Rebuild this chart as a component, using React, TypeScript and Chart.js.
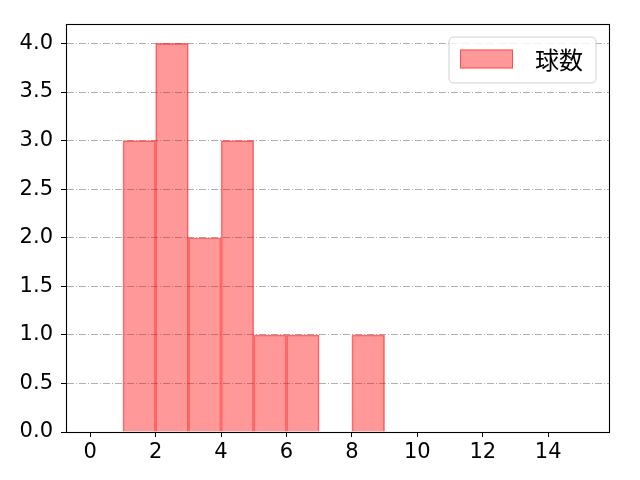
import React, { useEffect, useRef } from "react";
import { Chart, registerables } from "chart.js";

Chart.register(...registerables);

// Histogram bins (left edges, width 1) and counts
const binStarts = [1, 2, 3, 4, 5, 6, 7, 8];
const counts = [3, 4, 2, 3, 1, 1, 0, 1];
const seriesLabel = "球数";
const xTicks = [0, 2, 4, 6, 8, 10, 12, 14];
const yTicks = [0, 0.5, 1.0, 1.5, 2.0, 2.5, 3.0, 3.5, 4.0];

const TICK_FONT = "'DejaVu Sans', sans-serif";
const CJK_FONT = "'Noto Sans CJK JP', 'Noto Sans', sans-serif";

const framePlugin = {
  id: "frame",
  afterDatasetsDraw(chart: any) {
    const { ctx, chartArea } = chart;
    ctx.save();
    ctx.strokeStyle = "#000";
    ctx.lineWidth = 1.1;
    ctx.setLineDash([]);
    ctx.strokeRect(
      Math.round(chartArea.left) + 0.5,
      Math.round(chartArea.top) + 0.5,
      Math.round(chartArea.right - chartArea.left),
      Math.round(chartArea.bottom - chartArea.top)
    );
    ctx.restore();
  },
};

const legendPlugin = {
  id: "mplLegend",
  afterDraw(chart: any) {
    const { ctx, chartArea } = chart;
    const ds = chart.data.datasets[0];
    ctx.save();
    ctx.font = `24px ${CJK_FONT}`;
    const textW = ctx.measureText(ds.label).width;
    const padL = 11, patchW = 53, patchH = 19, gap = 22, padR = 13;
    const w = padL + patchW + gap + textW + padR;
    const h = 46;
    const right = chartArea.right - 13;
    const top = chartArea.top + 13;
    const left = right - w;
    const r = 5;
    ctx.beginPath();
    ctx.moveTo(left + r, top);
    ctx.lineTo(right - r, top);
    ctx.quadraticCurveTo(right, top, right, top + r);
    ctx.lineTo(right, top + h - r);
    ctx.quadraticCurveTo(right, top + h, right - r, top + h);
    ctx.lineTo(left + r, top + h);
    ctx.quadraticCurveTo(left, top + h, left, top + h - r);
    ctx.lineTo(left, top + r);
    ctx.quadraticCurveTo(left, top, left + r, top);
    ctx.closePath();
    ctx.fillStyle = "rgba(255,255,255,0.8)";
    ctx.fill();
    ctx.strokeStyle = "#d0d0d0";
    ctx.lineWidth = 1;
    ctx.stroke();
    const cy = top + h / 2;
    const px = left + padL;
    const py = cy - patchH / 2 - 1;
    ctx.fillStyle = ds.backgroundColor;
    ctx.fillRect(px, py, patchW, patchH);
    ctx.strokeStyle = ds.borderColor;
    ctx.lineWidth = 1;
    ctx.strokeRect(px + 0.5, py + 0.5, patchW - 1, patchH - 1);
    ctx.fillStyle = "#000";
    ctx.textAlign = "left";
    ctx.textBaseline = "middle";
    ctx.fillText(ds.label, px + patchW + gap, cy);
    ctx.restore();
  },
};

export default function App() {
  const canvasRef = useRef<HTMLCanvasElement | null>(null);

  useEffect(() => {
    document.body.style.margin = "0";
    const canvas = canvasRef.current;
    if (!canvas) return;
    const chart = new Chart(canvas, {
      type: "bar",
      data: {
        datasets: [
          {
            label: seriesLabel,
            data: binStarts.map((s, i) => ({ x: s + 0.5, y: counts[i] })),
            backgroundColor: "rgba(255,0,0,0.4)",
            borderColor: "rgba(255,0,0,0.5)",
            borderWidth: 1,
            borderSkipped: "start",
            barPercentage: 1,
            categoryPercentage: 1,
          },
        ],
      },
      options: {
        animation: false,
        responsive: false,
        devicePixelRatio: 1,
        layout: { padding: { left: 0, top: 24, right: 31, bottom: 0 } },
        plugins: {
          legend: { display: false },
          tooltip: { enabled: false },
        },
        scales: {
          x: {
            type: "linear",
            min: -0.74,
            max: 15.86,
            offset: false,
            afterBuildTicks: (scale: any) => {
              scale.ticks = xTicks.map((v) => ({ value: v }));
            },
            afterFit: (scale: any) => {
              scale.height = 48;
            },
            ticks: {
              color: "#000",
              font: { family: TICK_FONT, size: 21 },
              padding: 3,
              maxRotation: 0,
              autoSkip: false,
              callback: (v: any) => String(v),
            },
            grid: {
              offset: false,
              drawOnChartArea: false,
              tickLength: 5,
              tickColor: "#000",
              tickWidth: 1,
            },
            border: { color: "#000", width: 1 },
          },
          y: {
            type: "linear",
            min: 0,
            max: 4.2,
            afterBuildTicks: (scale: any) => {
              scale.ticks = yTicks.map((v) => ({ value: v }));
            },
            afterFit: (scale: any) => {
              scale.width = 66;
            },
            ticks: {
              color: "#000",
              font: { family: TICK_FONT, size: 21 },
              padding: 8,
              autoSkip: false,
              callback: (v: any) => Number(v).toFixed(1),
            },
            grid: {
              color: "#b0b0b0",
              lineWidth: 1,
              tickBorderDash: [],
              tickLength: 5,
              tickColor: "#000",
              tickWidth: 1,
            },
            border: { color: "#000", width: 1, dash: [7, 2, 1, 2] },
          },
        },
      },
      plugins: [framePlugin, legendPlugin],
    } as any);
    return () => chart.destroy();
  }, []);

  return (
    <div style={{ position: "absolute", left: 0, top: 0, width: 640, height: 480, background: "#fff" }}>
      <canvas ref={canvasRef} width={640} height={480} />
    </div>
  );
}
